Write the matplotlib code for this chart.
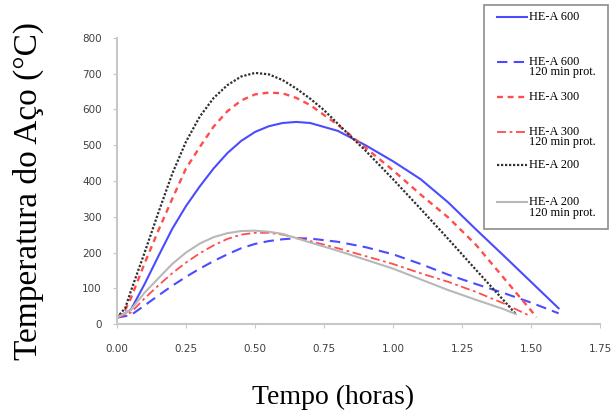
import numpy as np
import matplotlib.pyplot as plt
from matplotlib.patches import Rectangle
from matplotlib.lines import Line2D

# Tempo (horas) e temperatura do aço (°C)

t_600 = [0, 0.05, 0.1, 0.15, 0.2, 0.25, 0.3, 0.35, 0.4, 0.45, 0.5, 0.55, 0.6, 0.65, 0.7, 0.8, 0.9, 1.0, 1.1, 1.2, 1.3, 1.4, 1.5, 1.6]
T_600 = [18, 40, 112, 190, 266, 330, 385, 435, 478, 512, 537, 553, 562, 565, 562, 540, 500, 455, 405, 340, 265, 192, 118, 44]

t_600p = [0, 0.05, 0.1, 0.15, 0.2, 0.25, 0.3, 0.35, 0.4, 0.45, 0.5, 0.55, 0.6, 0.65, 0.7, 0.8, 0.9, 1.0, 1.1, 1.2, 1.3, 1.4, 1.5, 1.6]
T_600p = [18, 25, 52, 80, 107, 132, 155, 176, 195, 212, 224, 232, 237, 240, 239, 230, 215, 195, 168, 138, 112, 87, 60, 30]

t_300 = [0, 0.03, 0.05, 0.1, 0.15, 0.2, 0.25, 0.3, 0.35, 0.4, 0.45, 0.5, 0.55, 0.6, 0.65, 0.7, 0.8, 0.9, 1.0, 1.1, 1.2, 1.3, 1.4, 1.5, 1.52]
T_300 = [18, 40, 72, 170, 262, 350, 435, 495, 552, 595, 625, 642, 647, 645, 632, 612, 557, 493, 430, 362, 298, 222, 130, 38, 19]

t_300p = [0, 0.05, 0.1, 0.15, 0.2, 0.25, 0.3, 0.35, 0.4, 0.45, 0.5, 0.55, 0.6, 0.7, 0.8, 0.9, 1.0, 1.1, 1.2, 1.3, 1.4, 1.49]
T_300p = [18, 32, 72, 108, 142, 172, 198, 220, 238, 250, 255, 255, 250, 232, 212, 190, 168, 142, 118, 90, 58, 25]

t_200 = [0, 0.03, 0.05, 0.1, 0.15, 0.2, 0.25, 0.3, 0.35, 0.4, 0.45, 0.5, 0.55, 0.6, 0.65, 0.7, 0.75, 0.8, 0.85, 0.9, 1.0, 1.1, 1.2, 1.3, 1.4, 1.445]
T_200 = [18, 45, 92, 200, 312, 420, 510, 580, 632, 668, 692, 702, 698, 682, 658, 630, 598, 560, 522, 485, 405, 322, 238, 152, 67, 28]

t_200p = [0, 0.05, 0.1, 0.15, 0.2, 0.25, 0.3, 0.35, 0.4, 0.45, 0.5, 0.55, 0.6, 0.7, 0.8, 0.9, 1.0, 1.1, 1.2, 1.3, 1.4, 1.445]
T_200p = [18, 40, 88, 128, 168, 200, 225, 243, 254, 260, 261, 258, 252, 228, 205, 180, 155, 125, 95, 68, 42, 28]

labels = ["HE-A 600", "HE-A 600", "HE-A 300", "HE-A 300", "HE-A 200", "HE-A 200"]
sublabels = ["", "120 min prot.", "", "120 min prot.", "", "120 min prot."]

blue = '#4b4bff'
red = '#ff4d4d'
styles = [
    dict(color=blue, ls='-', lw=1.5),
    dict(color=blue, ls=(0, (5, 3)), lw=1.5),
    dict(color=red, ls=(0, (2.5, 2)), lw=1.7),
    dict(color=red, ls=(0, (5, 2, 1.5, 2)), lw=1.3),
    dict(color='#303030', ls=(0, (1, 0.8)), lw=1.6),
    dict(color='#b8b8b8', ls='-', lw=1.5),
]

series = [(t_600, T_600), (t_600p, T_600p), (t_300, T_300),
          (t_300p, T_300p), (t_200, T_200), (t_200p, T_200p)]

fig = plt.figure(figsize=(6.14, 4.16), dpi=100)
ax = fig.add_axes([0.1906, 0.221, 0.7866, 0.688])

for (t, T), st in zip(series, styles):
    ax.plot(t, T, **st)

ax.set_xlim(0, 1.75)
ax.set_ylim(0, 800)
ax.set_xticks(np.arange(0, 1.76, 0.25))
ax.set_yticks(np.arange(0, 801, 100))
ax.set_xticklabels([f"{v:.2f}" for v in np.arange(0, 1.76, 0.25)])

for s in ['top', 'right']:
    ax.spines[s].set_visible(False)
for s in ['left', 'bottom']:
    ax.spines[s].set_color('#c8c8c8')
    ax.spines[s].set_linewidth(1.5)

ax.tick_params(axis='both', direction='out', length=3, color='#c8c8c8',
               labelsize=7.5, labelcolor='#404040')
ax.tick_params(axis='x', pad=11)
ax.tick_params(axis='y', pad=8)

serif = 'Liberation Serif'
fig.text(0.333 / 0.614, 1 - 397 / 416, "Tempo (horas)", family=serif, fontsize=20,
         ha='center', va='center')
fig.text(28 / 614, 1 - 191 / 416, "Temperatura do Aço (°C)", family=serif, fontsize=24,
         rotation=90, ha='center', va='center')

# legenda desenhada à mão (posições em pixels da figura)
W, H = 614, 416
fig.add_artist(Rectangle((484 / W, 1 - 229 / H), (608 - 484) / W, (229 - 5) / H,
                         transform=fig.transFigure, fill=False,
                         edgecolor='#8c8c8c', lw=1.2))
rows = [17, 62, 97, 132, 165, 202]
for yy, lab, sub, st in zip(rows, labels, sublabels, styles):
    fy = 1 - yy / H
    fig.add_artist(Line2D([497 / W, 527 / W], [fy, fy], transform=fig.transFigure, **st))
    fig.text(529 / W, fy, lab, family=serif, fontsize=8.8, va='center', ha='left')
    if sub:
        fig.text(529 / W, fy - 10.5 / H, sub, family=serif, fontsize=8.8, va='center', ha='left')

fig.savefig('out.png', dpi=100)
